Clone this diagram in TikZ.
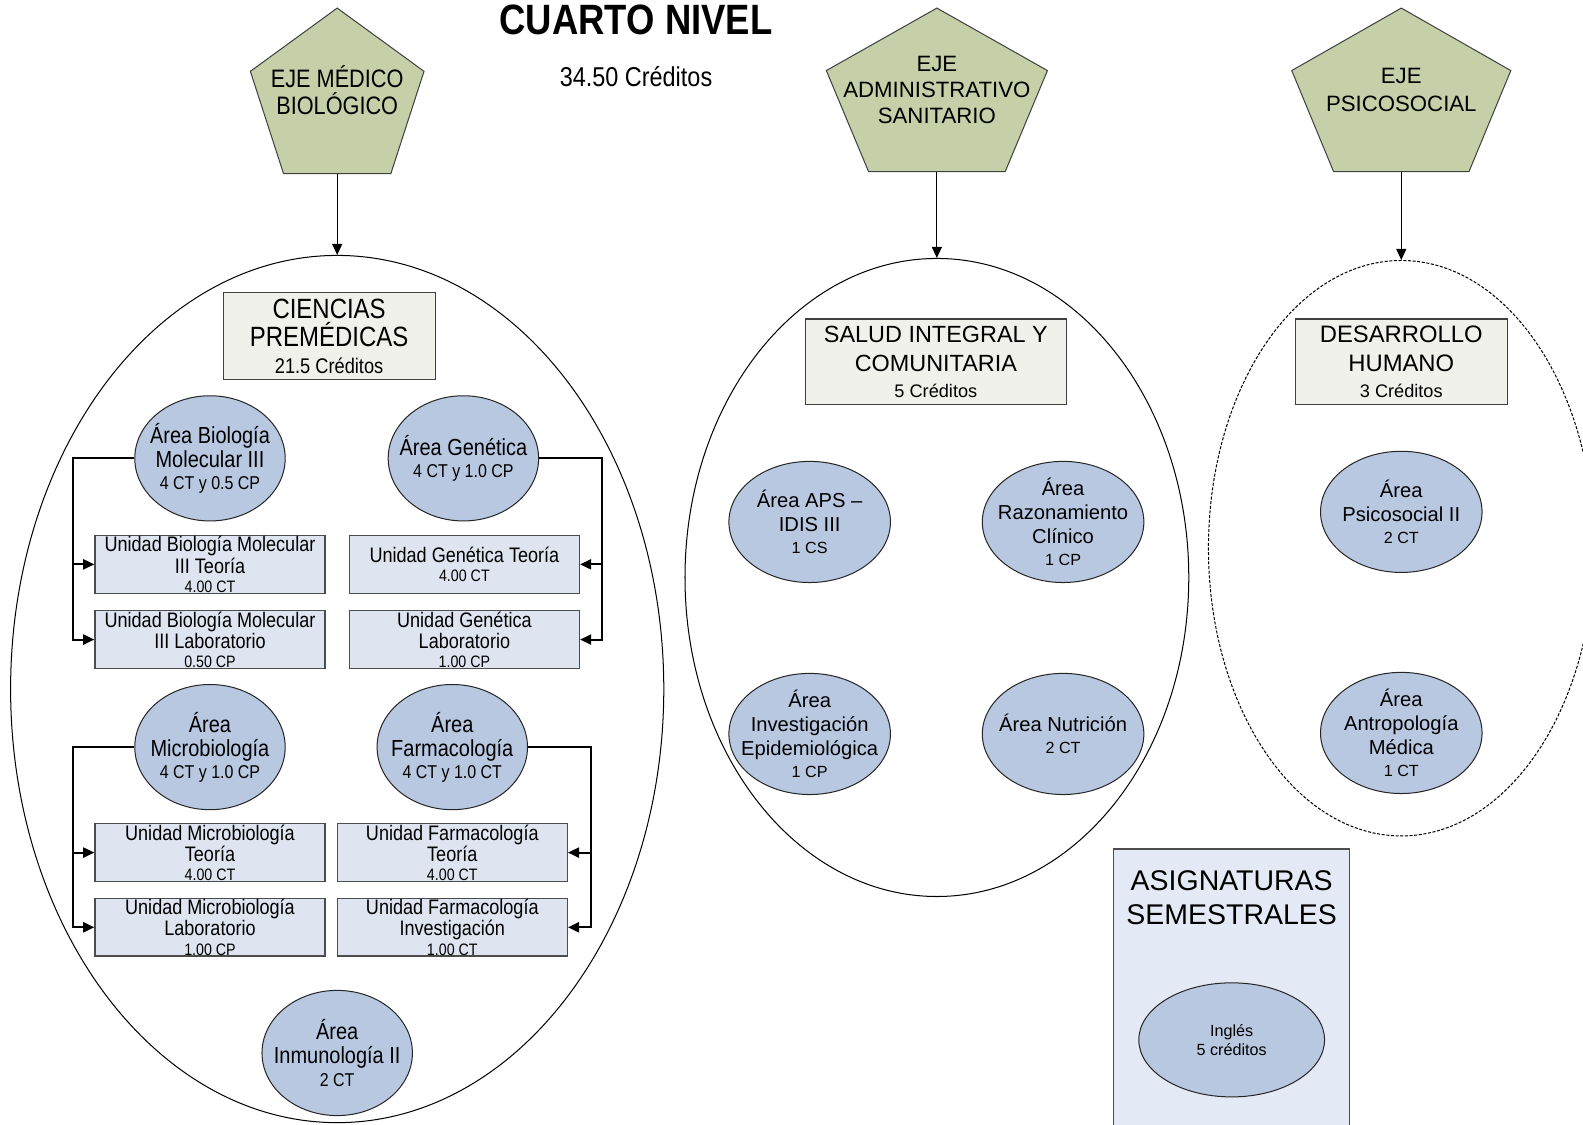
\documentclass[tikz,border=0pt]{standalone}
\usepackage{fontspec}
\setmainfont{Liberation Sans}
\newfontfamily\narrowfont{Liberation Sans}[FakeStretch=0.86]
\usetikzlibrary{arrows.meta,shapes.geometric,calc}

\definecolor{pentafill}{RGB}{197,207,168}
\definecolor{areafill}{RGB}{184,200,225}
\definecolor{unitfill}{RGB}{222,228,240}
\definecolor{headfill}{RGB}{240,241,234}
\definecolor{semfill}{RGB}{228,234,245}

\newcommand\setfs[2]{\fontsize{#1}{#2}\selectfont}

% pentagon: name of bottom coordinate, centre x, top y, width, height
\newcommand\drawpenta[5]{%
  \draw[pentastyle] (#2,#3) -- ({#2+#4/2},{#3+0.382*#5}) -- ({#2+0.309*#4},{#3+#5})
    -- ({#2-0.309*#4},{#3+#5}) -- ({#2-#4/2},{#3+0.382*#5}) -- cycle;
  \coordinate (#1) at (#2,{#3+#5});}

% oval of fixed size with its text set on top: name, style, position, text
\newcommand\areaoval[4]{%
  \node[#2] (#1) at #3 {};
  \node[plain,#2 text] (#1-t) at (#1.center) {#4};}

\tikzset{
  pentastyle/.style={fill=pentafill,draw=black!75,line width=0.5pt},
  bigoval/.style={ellipse,draw=black,line width=0.5pt,inner sep=0pt},
  areanode/.style={ellipse,draw=black!85,fill=areafill,line width=0.5pt,inner sep=0pt},
  leftarea/.style={areanode,minimum width=74.5pt,minimum height=62pt},
  leftarea text/.style={font=\narrowfont\setfs{11.5}{12}},
  rightarea/.style={areanode,minimum width=80pt,minimum height=60pt},
  rightarea text/.style={font=\setfs{10}{12}},
  unitbox/.style={rectangle,draw=black!70,fill=unitfill,line width=0.6pt,inner sep=0pt,
    minimum width=114pt,minimum height=28.5pt,align=center,font=\narrowfont\setfs{10.4}{10.5}},
  headbox/.style={rectangle,draw=black!75,fill=headfill,line width=0.6pt,inner sep=0pt,align=center},
  feed/.style={line width=0.5pt,-{Triangle[length=5.5pt,width=5pt]}},
  link/.style={line width=1pt,-{Triangle[length=5.5pt,width=5pt]}},
  plain/.style={inner sep=0pt,align=center}
}

\begin{document}
\begin{tikzpicture}[x=0.5pt,y=-0.5pt]
\useasboundingbox (0,0) rectangle (1568,1114);
\clip (0,0) rectangle (1568,1114);

% heading
\node[plain,font=\narrowfont\bfseries\setfs{21}{24}] (title) at (630,20) {CUARTO NIVEL};
\node[plain,font=\narrowfont\setfs{13.5}{15}] (total) at (630,76) {34.50 Créditos};

% axes
\drawpenta{p1}{334}{8}{172}{164}
\drawpenta{p2}{928}{8}{219}{162}
\drawpenta{p3}{1388}{8}{217}{162}
\node[plain,font=\narrowfont\setfs{12.5}{13.5}] (p1t) at (334,89) {EJE MÉDICO\\BIOLÓGICO};
\node[plain,font=\setfs{11}{13}] (p2t) at (928,89) {EJE\\ADMINISTRATIVO\\SANITARIO};
\node[plain,font=\setfs{11}{13.5}] (p3t) at (1388,89) {EJE\\PSICOSOCIAL};

% groups
\node[bigoval,minimum width=323.5pt,minimum height=429.5pt] (E1) at (334,682.5) {};
\node[bigoval,minimum width=249.5pt,minimum height=316pt] (E2) at (928,572) {};
\node[bigoval,dash pattern=on 1.5pt off 0.8pt,minimum width=191pt,minimum height=285pt] (E3) at (1388,543) {};

\draw[feed] (p1) -- (E1.north);
\draw[feed] (p2) -- (E2.north);
\draw[feed] (p3) -- (E3.north);

% group titles
\node[headbox,minimum width=105pt,minimum height=43pt,font=\narrowfont\setfs{13.8}{14}] (h1) at (326,333)
  {CIENCIAS\\PREMÉDICAS\\[-1pt]{\setfs{10.5}{12}21.5 Créditos}};
\node[headbox,minimum width=129pt,minimum height=42.5pt,font=\setfs{11.6}{14}] (h2) at (927,358.5)
  {SALUD INTEGRAL Y\\COMUNITARIA\\[-1pt]{\setfs{9}{11}5 Créditos}};
\node[headbox,minimum width=105pt,minimum height=42.5pt,font=\setfs{11.8}{14}] (h3) at (1388,358.5)
  {DESARROLLO\\HUMANO\\[-1pt]{\setfs{9}{11}3 Créditos}};

% areas of the first group
\areaoval{a1}{leftarea}{(208,454)}{Área Biología\\Molecular III\\[-1pt]{\setfs{9.2}{11}4 CT y 0.5 CP}}
\areaoval{a2}{leftarea}{(459,454)}{Área Genética\\[-1pt]{\setfs{9.2}{11}4 CT y 1.0 CP}}
\areaoval{a3}{leftarea}{(208,740)}{Área\\Microbiología\\[-1pt]{\setfs{9.2}{11}4 CT y 1.0 CP}}
\areaoval{a4}{leftarea}{(448,740)}{Área\\Farmacología\\[-1pt]{\setfs{9.2}{11}4 CT y 1.0 CT}}
\areaoval{a5}{leftarea}{(334,1043)}{Área\\Inmunología II\\[-1pt]{\setfs{9.2}{11}2 CT}}

% units
\node[unitbox] (u1) at (208,559) {Unidad Biología Molecular\\III Teoría\\[-1pt]{\setfs{8.2}{9}4.00 CT}};
\node[unitbox] (u2) at (208,633.5) {Unidad Biología Molecular\\III Laboratorio\\[-1pt]{\setfs{8.2}{9}0.50 CP}};
\node[unitbox] (u3) at (460,559) {Unidad Genética Teoría\\[-1pt]{\setfs{8.2}{9}4.00 CT}};
\node[unitbox] (u4) at (460,633.5) {Unidad Genética\\Laboratorio\\[-1pt]{\setfs{8.2}{9}1.00 CP}};
\node[unitbox] (u5) at (208,844.5) {Unidad Microbiología\\Teoría\\[-1pt]{\setfs{8.2}{9}4.00 CT}};
\node[unitbox] (u6) at (208,918.5) {Unidad Microbiología\\Laboratorio\\[-1pt]{\setfs{8.2}{9}1.00 CP}};
\node[unitbox] (u7) at (448,844.5) {Unidad Farmacología\\Teoría\\[-1pt]{\setfs{8.2}{9}4.00 CT}};
\node[unitbox] (u8) at (448,918.5) {Unidad Farmacología\\Investigación\\[-1pt]{\setfs{8.2}{9}1.00 CT}};

\draw[link] (a1.west) -- ++(-61,0) |- (u1.west);
\draw[link] (a1.west) -- ++(-61,0) |- (u2.west);
\draw[link] (a2.east) -- ++(62,0) |- (u3.east);
\draw[link] (a2.east) -- ++(62,0) |- (u4.east);
\draw[link] (a3.west) -- ++(-61,0) |- (u5.west);
\draw[link] (a3.west) -- ++(-61,0) |- (u6.west);
\draw[link] (a4.east) -- ++(62,0) |- (u7.east);
\draw[link] (a4.east) -- ++(62,0) |- (u8.east);

% areas of the second group
\areaoval{b1}{rightarea}{(802,517)}{Área APS –\\IDIS III\\[-1pt]{\setfs{8}{10}1 CS}}
\areaoval{b2}{rightarea}{(1053,517)}{Área\\Razonamiento\\Clínico\\[-1pt]{\setfs{8}{10}1 CP}}
\areaoval{b3}{rightarea}{(802,727)}{Área\\Investigación\\Epidemiológica\\[-1pt]{\setfs{8}{10}1 CP}}
\areaoval{b4}{rightarea}{(1053,727)}{Área Nutrición\\[-1pt]{\setfs{8}{10}2 CT}}

% areas of the third group
\areaoval{c1}{rightarea}{(1388,507)}{Área\\Psicosocial II\\[-1pt]{\setfs{8}{10}2 CT}}
\areaoval{c2}{rightarea}{(1388,726)}{Área\\Antropología\\Médica\\[-1pt]{\setfs{8}{10}1 CT}}

% semester subjects
\node[rectangle,draw=black!70,fill=semfill,line width=0.6pt,minimum width=117pt,minimum height=150pt,inner sep=0pt]
  (sem) at (1220,991) {};
\node[plain,font=\setfs{14.1}{17}] (semt) at (1220,889) {ASIGNATURAS\\SEMESTRALES};
\node[areanode,minimum width=92pt,minimum height=56.5pt] (ing) at (1220,1030) {};
\node[plain,font=\setfs{8}{9.5}] (ing-t) at (ing.center) {Inglés\\5 créditos};
\end{tikzpicture}
\end{document}
